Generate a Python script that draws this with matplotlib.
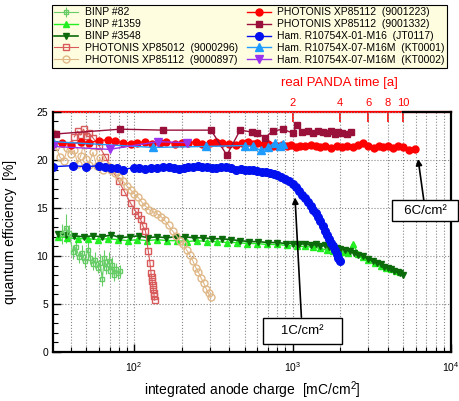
import numpy as np
import matplotlib
matplotlib.use('Agg')
import matplotlib.pyplot as plt
from matplotlib.ticker import MultipleLocator, NullLocator

plt.rcParams['font.family'] = ['Liberation Sans', 'DejaVu Sans']
plt.rcParams['mathtext.fontset'] = 'custom'
plt.rcParams['mathtext.rm'] = 'Liberation Sans'

# BINP #82
x82 = [35, 37, 39, 41, 43, 45, 47, 49, 51, 53, 55, 57, 59, 61, 63, 65, 67, 69, 71, 73, 75, 77, 79, 81]
y82 = [12.3, 12.9, 12.4, 10.4, 10.9, 9.9, 10.3, 9.5, 10.6, 9.8, 9.2, 9.6, 8.8, 9.3, 7.6, 9.8, 8.7, 9.5, 8.4, 9.1, 8.0, 8.6, 8.2, 8.4]
e82 = [1.0, 1.5, 0.8, 0.7, 0.9, 0.6, 0.8, 0.7, 0.9, 0.6, 0.7, 0.8, 0.6, 0.9, 0.7, 0.8, 0.6, 0.9, 0.7, 0.8, 0.6, 0.7, 0.6, 0.7]

# BINP #1359
x1359 = [33, 38, 44, 51, 59, 68, 79, 91, 105, 121, 140, 162, 187, 216, 250, 289, 334, 386, 446, 515, 595, 688,
         795, 918, 1060, 1200, 1350, 1500, 1650, 1800, 1950, 2100, 2250, 2400, 2600, 2800, 3000, 3300, 3600,
         3900, 4200, 4500, 4800]
y1359 = [12.0, 11.9, 11.8, 11.8, 11.7, 11.8, 11.7, 11.6, 11.7, 11.6, 11.7, 11.6, 11.6, 11.5, 11.6, 11.5, 11.5,
         11.4, 11.4, 11.3, 11.3, 11.2, 11.2, 11.1, 11.0, 11.0, 10.9, 10.8, 10.6, 10.5, 10.6, 10.4, 10.3, 11.3,
         10.2, 9.9, 9.6, 9.3, 9.0, 8.8, 8.6, 8.4, 8.3]

# BINP #3548
x3548 = [33, 37, 42, 48, 55, 63, 72, 82, 94, 107, 122, 140, 160, 183, 209, 239, 273, 312, 357, 408, 466, 533,
         609, 696, 795, 909, 1000, 1100, 1200, 1300, 1400, 1500, 1600, 1700, 1800, 1900, 2000, 2150, 2300, 2450,
         2600, 2800, 3000, 3200, 3400, 3600, 3800, 4000, 4200, 4400, 4600, 4800, 5000]
y3548 = [12.3, 12.2, 12.1, 12.0, 12.1, 12.0, 12.2, 11.9, 12.0, 12.1, 11.9, 12.0, 11.9, 12.0, 12.0, 11.9, 11.9,
         11.8, 11.8, 11.7, 11.6, 11.5, 11.5, 11.4, 11.4, 11.3, 11.3, 11.2, 11.3, 11.1, 11.2, 11.0, 11.1, 10.9,
         11.0, 10.8, 10.7, 10.6, 10.5, 10.3, 10.1, 10.0, 9.7, 9.5, 9.3, 9.2, 8.9, 8.8, 8.6, 8.4, 8.3, 8.2, 8.0]

# PHOTONIS XP85012 (9000296)
x296 = [42, 44, 46, 48, 50, 52, 55, 60, 66, 73, 80, 87, 95, 102, 106, 110, 114, 118, 123, 126, 128, 129, 130,
        131, 132, 133, 134, 135]
y296 = [22.4, 23.0, 22.6, 23.2, 22.5, 22.8, 22.3, 21.5, 20.3, 18.9, 17.8, 16.7, 15.5, 14.7, 14.3, 13.8, 13.1,
        12.6, 10.5, 9.3, 8.2, 7.8, 7.4, 7.0, 6.6, 6.2, 5.8, 5.4]

# PHOTONIS XP85112 (9000897)
x897 = [31, 32, 34, 36, 38, 40, 42, 44, 46, 48, 50, 52, 55, 58, 61, 64, 68, 72, 76, 80, 85, 90, 95, 100, 106,
        112, 118, 125, 132, 140, 148, 156, 165, 175, 185, 195, 205, 215, 225, 235, 245, 255, 265, 275, 285,
        295, 305]
y897 = [22.8, 21.5, 20.3, 19.9, 21.2, 20.6, 21.0, 19.6, 20.4, 21.6, 20.1, 19.5, 20.8, 19.4, 20.2, 19.0, 19.4,
        18.9, 18.6, 18.2, 17.8, 17.3, 16.9, 16.5, 16.1, 15.6, 15.2, 14.8, 14.6, 14.4, 14.1, 13.7, 13.2, 12.6,
        12.1, 11.6, 11.2, 10.6, 10.1, 9.5, 8.8, 8.3, 7.7, 7.2, 6.6, 6.1, 5.7]

# PHOTONIS XP85112 (9001223)
x1223 = [31, 35, 40, 46, 52, 60, 68, 76, 85, 95, 105, 118, 130, 145, 160, 180, 200, 220, 245, 270, 300, 330,
         360, 400, 440, 480, 520, 560, 600, 650, 700, 750, 800, 860, 920, 980, 1050, 1120, 1200, 1300, 1400,
         1500, 1600, 1750, 1900, 2050, 2200, 2400, 2600, 2800, 3000, 3250, 3500, 3750, 4000, 4300, 4600,
         5000, 5400, 5900]
y1223 = [21.7, 21.8, 21.6, 21.9, 21.8, 22.0, 22.1, 22.0, 21.8, 21.7, 21.8, 21.9, 21.7, 21.8, 21.9, 21.7, 21.8,
         21.8, 21.9, 21.7, 21.8, 21.9, 21.8, 21.7, 21.6, 21.8, 21.9, 21.7, 21.8, 21.6, 21.7, 21.5, 21.4, 21.6,
         21.5, 21.6, 21.3, 21.5, 21.4, 21.6, 21.4, 21.3, 21.5, 21.2, 21.4, 21.3, 21.5, 21.3, 21.6, 21.8, 21.4,
         21.2, 21.4, 21.3, 21.5, 21.2, 21.4, 21.3, 21.0, 21.1]

# PHOTONIS XP85112 (9001332)
x1332 = [32, 82, 152, 306, 385, 467, 555, 600, 670, 750, 870, 1000, 1070, 1150, 1250, 1350, 1450, 1550, 1650,
         1750, 1850, 1950, 2050, 2200, 2350]
y1332 = [22.7, 23.2, 23.1, 23.1, 20.5, 23.1, 22.9, 22.8, 22.3, 23.0, 23.2, 22.8, 23.6, 22.9, 23.0, 22.8, 23.0,
         22.9, 22.8, 23.0, 22.7, 22.9, 22.8, 22.7, 22.9]

# Ham. R10754X-01-M16 (JT0117)
xjt = [31, 41, 50, 60, 66, 72, 78, 85, 100, 108, 118, 128, 140, 152, 165, 178, 192, 206, 220, 236, 252, 270,
       290, 310, 330, 355, 380, 410, 440, 470, 500, 530, 560, 600, 640, 680, 720, 760, 800, 850, 900, 950, 1000,
       1050, 1100, 1150, 1200, 1250, 1300, 1350, 1400, 1450, 1500, 1550, 1600, 1650, 1700, 1750, 1800, 1850,
       1900, 1950, 2000]
yjt = [19.3, 19.4, 19.3, 19.4, 19.3, 19.2, 19.2, 19.0, 19.2, 19.2, 19.1, 19.2, 19.2, 19.3, 19.3, 19.2, 19.1,
       19.2, 19.3, 19.3, 19.4, 19.3, 19.3, 19.2, 19.2, 19.3, 19.3, 19.2, 19.0, 19.1, 19.0, 18.9, 18.9, 18.8,
       18.7, 18.7, 18.6, 18.5, 18.4, 18.2, 18.0, 17.8, 17.5, 17.2, 16.8, 16.4, 16.0, 15.6, 15.2, 14.8, 14.5,
       14.1, 13.6, 13.1, 12.6, 12.2, 11.8, 11.4, 11.0, 10.6, 10.2, 9.8, 9.5]

# Ham. R10754X-07-M16M (KT0001)
xkt1 = [31, 132, 284, 500, 560, 630, 700, 770, 830, 870]
ykt1 = [21.9, 21.3, 21.4, 21.5, 21.4, 21.0, 21.3, 21.8, 21.5, 21.7]

# Ham. R10754X-07-M16M (KT0002)
xkt2 = [31, 70, 141, 215]
ykt2 = [21.4, 21.1, 21.9, 21.8]

panda_years = [2, 4, 6, 8, 10]

fig = plt.figure(figsize=(4.59, 4.01), dpi=100)
ax = fig.add_axes([0.1155, 0.122, 0.867, 0.599])

handles = []
handles.append(ax.errorbar(x82, y82, yerr=e82, color='#66CC66', marker='s', mfc='none', ms=3.5, lw=0.8,
                           elinewidth=0.8, label='BINP #82'))
handles += ax.plot(x1359, y1359, color='#22EE22', marker='^', ms=4, lw=1, label='BINP #1359')
handles += ax.plot(x3548, y3548, color='#0B6B0B', marker='v', ms=4.5, lw=1.2, label='BINP #3548')
handles += ax.plot(x296, y296, color='#D85A5A', marker='s', mfc='none', ms=5, lw=0.8,
                   label='PHOTONIS XP85012  (9000296)')
handles += ax.plot(x897, y897, color='#E0B888', marker='o', mfc='none', ms=5, lw=0.8,
                   label='PHOTONIS XP85112  (9000897)')
handles += ax.plot(x1223, y1223, color='#FF0000', marker='o', ms=5, lw=1, label='PHOTONIS XP85112  (9001223)')
handles += ax.plot(x1332, y1332, color='#99103A', marker='s', ms=5, lw=1, label='PHOTONIS XP85112  (9001332)')
handles += ax.plot(xjt, yjt, color='#0010EE', marker='o', ms=5.5, lw=1, label='Ham. R10754X-01-M16  (JT0117)')
handles += ax.plot(xkt1, ykt1, color='#1E9BFF', marker='^', ms=5.5, lw=1, label='Ham. R10754X-07-M16M  (KT0001)')
handles += ax.plot(xkt2, ykt2, color='#9933EE', marker='v', ms=5.5, lw=1, label='Ham. R10754X-07-M16M  (KT0002)')

ax.set_xscale('log')
ax.set_xlim(30.8, 1e4)
ax.set_ylim(0, 25)
ax.yaxis.set_major_locator(MultipleLocator(5))
ax.yaxis.set_minor_locator(MultipleLocator(1))
ax.grid(True, which='major', axis='y', color='#888888', ls=':', lw=0.8)
ax.grid(True, which='both', axis='x', color='#888888', ls=':', lw=0.8)
ax.tick_params(which='both', direction='in', labelsize=7.5, top=False, right=False)
ax.tick_params(which='major', length=6, width=1)
ax.tick_params(which='minor', length=3.5, width=0.8)
ax.tick_params(axis='x', which='major', pad=6)
for s in ['left', 'bottom', 'right']:
    ax.spines[s].set_linewidth(1.6)
ax.spines['top'].set_visible(False)

ax.set_xlabel('integrated anode charge  [mC/cm$^2$]', fontsize=10, labelpad=4)
ax.set_ylabel('quantum efficiency  [%]', fontsize=10, labelpad=14)

# real PANDA time axis (1 a = 500 mC/cm2)
secax = ax.secondary_xaxis('top', functions=(lambda q: q / 500.0, lambda t: t * 500.0))
secax.xaxis.set_minor_locator(NullLocator())
secax.set_xticks(panda_years, labels=[str(t) for t in panda_years])
secax.tick_params(direction='in', length=7, width=1.2, colors='red', labelsize=8, pad=3)
secax.spines['top'].set_color('red')
secax.spines['top'].set_linewidth(1.6)
ax.plot([5000, 1e4], [25, 25], color='black', lw=1.6, clip_on=False, zorder=5)
ax.text(0.72, 1.12, 'real PANDA time [a]', transform=ax.transAxes, color='red', fontsize=9.5,
        ha='center', va='center')

arrow = dict(arrowstyle='-|>', color='black', lw=1.2, mutation_scale=9, shrinkA=0, shrinkB=0)
ax.annotate('   1C/cm²   ', xy=(1037, 16.1), xytext=(1150, 2.2), fontsize=9.5, ha='center', va='center',
            bbox=dict(boxstyle='square,pad=0.55', fc='white', ec='black', lw=1), arrowprops=arrow, zorder=10)
ax.annotate('  6C/cm²  ', xy=(6200, 20.1), xytext=(4550, 14.7), fontsize=9.5, ha='left', va='center',
            bbox=dict(boxstyle='square,pad=0.35', fc='white', ec='black', lw=1), arrowprops=arrow,
            annotation_clip=False, zorder=10)

leg = fig.legend(handles=handles, loc='upper left', bbox_to_anchor=(0.113, 0.825, 0.861, 0.163),
                 mode='expand', ncol=2, fontsize=7.5, frameon=True, fancybox=False, edgecolor='black',
                 facecolor='#FFFDE0', framealpha=1, borderpad=0.25, labelspacing=0.18, handlelength=2.3,
                 handletextpad=0.6, columnspacing=1.0, borderaxespad=0)
leg.get_frame().set_linewidth(0.8)

fig.savefig('out.png', dpi=100)
